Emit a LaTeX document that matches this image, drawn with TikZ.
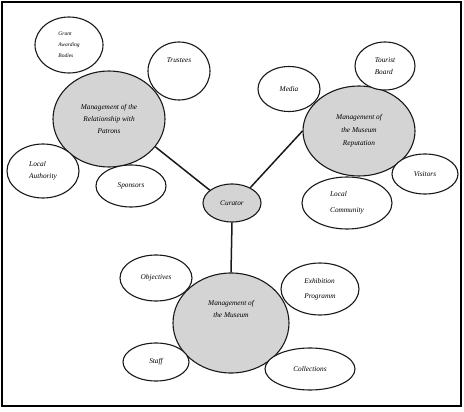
\documentclass[tikz,border=0pt]{standalone}
\usepackage{fontspec}
\setmainfont{Liberation Serif}
\usetikzlibrary{shapes.geometric}
\definecolor{hubgray}{RGB}{212,212,212}
\definecolor{ink}{RGB}{25,25,25}
\tikzset{
  bubble/.style={ellipse,draw=ink,line width=1.1pt,fill=white,inner sep=0pt,
    font=\fontsize{7.3}{12}\selectfont\itshape,align=center},
  hub/.style={bubble,fill=hubgray},
  link/.style={draw=ink,line width=1.5pt},
}
\begin{document}
\begin{tikzpicture}[x=1pt,y=-1pt]
  \useasboundingbox (0,0) rectangle (464,412);
  \draw[line width=2.8pt] (2,2) rectangle (461,406);
  % the three fields and the curator
  \node[hub,minimum width=112pt,minimum height=96pt] (pat) at (109,119) {Management of the\\Relationship with\\Patrons};
  \node[hub,minimum width=112pt,minimum height=90pt,font=\fontsize{7.3}{13}\selectfont\itshape] (rep) at (359,131) {Management of\\the Museum\\Reputation};
  \node[hub,minimum width=116pt,minimum height=100pt] (mus) at (231,323) {Management of\\the Museum\\[16pt]};
  \node[hub,minimum width=58pt,minimum height=38pt] (cur) at (232,203) {Curator};
  % patrons
  \node[bubble,minimum width=68pt,minimum height=56pt,align=left,font=\fontsize{5.5}{11}\selectfont\itshape] (grant) at (69,45) {Grant\\Awarding\\Bodies\hspace{12pt}};
  \node[bubble,minimum width=62pt,minimum height=58pt] (trust) at (179,71) {Trustees\\[10pt]};
  \node[bubble,minimum width=72pt,minimum height=54pt,align=left] (auth) at (43,171) {Local\\Authority\hspace{4pt}};
  \node[bubble,minimum width=70pt,minimum height=42pt] (spons) at (131,186) {Sponsors};
  % reputation
  \node[bubble,minimum width=62pt,minimum height=45pt] (media) at (289,89) {Media};
  \node[bubble,minimum width=60pt,minimum height=48pt,align=left] (tour) at (385,66) {Tourist\\Board};
  \node[bubble,minimum width=66pt,minimum height=40pt] (vis) at (425,174) {Visitors};
  \node[bubble,minimum width=90pt,minimum height=52pt,align=left,font=\fontsize{7.3}{16}\selectfont\itshape] (comm) at (347,203) {Local\\Community};
  % museum
  \node[bubble,minimum width=72pt,minimum height=46pt] (obj) at (156,278) {Objectives};
  \node[bubble,minimum width=66pt,minimum height=38pt] (staff) at (156,362) {Staff};
  \node[bubble,minimum width=78pt,minimum height=52pt,align=left,font=\fontsize{7.3}{15}\selectfont\itshape] (exhib) at (320,289) {Exhibition\\Programm};
  \node[bubble,minimum width=90pt,minimum height=42pt] (coll) at (310,369) {Collections};
  % links to the curator
  \draw[link] (cur.150) -- (pat.-31);
  \draw[link] (cur.40) -- (rep.west);
  \draw[link] (cur.south) -- (mus.north);
\end{tikzpicture}
\end{document}
